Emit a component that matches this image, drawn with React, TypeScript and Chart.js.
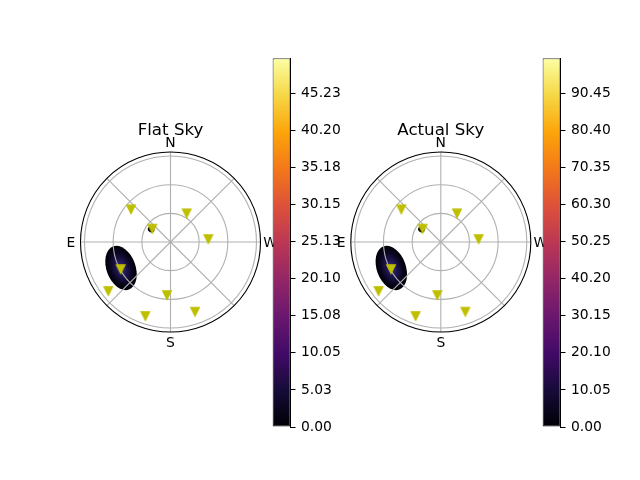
import { useEffect, useRef } from 'react';
import { Chart, registerables } from 'chart.js';

Chart.register(...registerables);

const FONT = "'DejaVu Sans', 'Liberation Sans', sans-serif";
const TICK_FS = 13.89;
const TITLE_FS = 16.67;

// ---- data ----
const panelTitles = ['Flat Sky', 'Actual Sky'];
// satellite positions: azimuth (deg, N=0, E=90) and zenith angle (deg)
const satAzimuth = [50.4, 330.6, 53.8, 274.5, 118.5, 128.2, 176.2, 161.2, 199.4];
const satZenith = [53.7, 34.5, 23.6, 39.7, 59.3, 82.9, 55.6, 81.8, 77.3];
// polar grid
const RMAX = 94.2;
const ringZenith = [30, 60, 90];
const spokeAzimuth = [0, 45, 90, 135, 180, 225, 270, 315];
const spokeLabels = ['N', '', 'E', '', 'S', '', 'W', ''];
// mesh blobs (non-masked cells)
const blobAzimuth = [117.7, 57];
const blobZenith = [58.5, 24.2];
const blobMajor = [24.1, 3.6];
const blobMinor = [15.2, 3.0];
const blobTilt = [70, 30];
const blobPeak = ['#3d3478', '#000004'];
// colorbars
const cbarMax = [50.0, 100.0];
const cbarTicksFlat = ['0.00', '5.03', '10.05', '15.08', '20.10', '25.13', '30.15', '35.18', '40.20', '45.23'];
const cbarTicksActual = ['0.00', '10.05', '20.10', '30.15', '40.20', '50.25', '60.30', '70.35', '80.40', '90.45'];
const infernoStops = ['#000004', '#160b39', '#420a68', '#6a176e', '#932667', '#bc3754', '#dd513a', '#f37819', '#fca50a', '#f6d746', '#fcffa4'];

const toXY = (az: number, zen: number): [number, number] => {
  const a = (az * Math.PI) / 180;
  return [-zen * Math.sin(a), zen * Math.cos(a)];
};

function makeMarker(): HTMLCanvasElement {
  const c = document.createElement('canvas');
  c.width = 12;
  c.height = 12;
  const g = c.getContext('2d')!;
  const h = 4.17;
  g.beginPath();
  g.moveTo(6 - h, 6 - h);
  g.lineTo(6 + h, 6 - h);
  g.lineTo(6, 6 + h);
  g.closePath();
  g.fillStyle = '#bfbf00';
  g.strokeStyle = '#bfbf00';
  g.lineWidth = 1.39;
  g.lineJoin = 'miter';
  g.fill();
  g.stroke();
  return c;
}

const polarPlugin = {
  id: 'polarSky',
  beforeDatasetsDraw(chart: any) {
    const { ctx } = chart;
    const x = chart.scales.x;
    const y = chart.scales.y;
    const cx = x.getPixelForValue(0);
    const cy = y.getPixelForValue(0);
    const ppu = (x.getPixelForValue(RMAX) - cx) / RMAX;
    // mesh blobs
    blobAzimuth.forEach((az, i) => {
      const [bx, by] = toXY(az, blobZenith[i]);
      ctx.save();
      ctx.translate(x.getPixelForValue(bx), y.getPixelForValue(by));
      ctx.rotate((blobTilt[i] * Math.PI) / 180);
      ctx.scale(blobMajor[i] * ppu, blobMinor[i] * ppu);
      const g = ctx.createRadialGradient(0, 0, 0, 0, 0, 1);
      g.addColorStop(0, blobPeak[i]);
      g.addColorStop(0.35, i === 0 ? '#1e1550' : '#000004');
      g.addColorStop(0.7, i === 0 ? '#0a0620' : '#000004');
      g.addColorStop(1, '#000004');
      ctx.fillStyle = g;
      ctx.beginPath();
      ctx.arc(0, 0, 1, 0, Math.PI * 2);
      ctx.fill();
      ctx.restore();
    });
    // grid
    ctx.save();
    ctx.strokeStyle = '#b0b0b0';
    ctx.lineWidth = 1.1;
    ringZenith.forEach((r) => {
      ctx.beginPath();
      ctx.arc(cx, cy, r * ppu, 0, Math.PI * 2);
      ctx.stroke();
    });
    spokeAzimuth.forEach((az) => {
      const [ex, ey] = toXY(az, RMAX);
      ctx.beginPath();
      ctx.moveTo(cx, cy);
      ctx.lineTo(x.getPixelForValue(ex), y.getPixelForValue(ey));
      ctx.stroke();
    });
    ctx.restore();
  },
  afterDatasetsDraw(chart: any) {
    const { ctx } = chart;
    const x = chart.scales.x;
    const y = chart.scales.y;
    const cx = x.getPixelForValue(0);
    const cy = y.getPixelForValue(0);
    const rpx = x.getPixelForValue(RMAX) - cx;
    ctx.save();
    ctx.strokeStyle = '#000';
    ctx.lineWidth = 1.1;
    ctx.beginPath();
    ctx.arc(cx, cy, rpx, 0, Math.PI * 2);
    ctx.stroke();
    ctx.fillStyle = '#000';
    ctx.font = `${TICK_FS}px ${FONT}`;
    ctx.textAlign = 'center';
    ctx.textBaseline = 'alphabetic';
    spokeAzimuth.forEach((az, i) => {
      const lab = spokeLabels[i];
      if (!lab) return;
      const a = (az * Math.PI) / 180;
      const d = rpx + 9.6;
      const px = cx - Math.sin(a) * d;
      const py = cy - Math.cos(a) * d;
      ctx.fillText(lab, px, py + 0.365 * TICK_FS);
    });
    ctx.restore();
  },
};

function PolarSky({ title, left, padL, padR }: { title: string; left: number; padL: number; padR: number }) {
  const ref = useRef<HTMLCanvasElement>(null);
  useEffect(() => {
    const marker = makeMarker();
    const points = satAzimuth.map((az, i) => {
      const [px, py] = toXY(az, satZenith[i]);
      return { x: px, y: py };
    });
    const chart = new Chart(ref.current!, {
      type: 'scatter',
      data: {
        datasets: [
          {
            data: points,
            pointStyle: marker as any,
            pointRadius: 5,
            showLine: false,
          },
        ],
      },
      options: {
        animation: false,
        responsive: false,
        events: [],
        layout: { padding: { left: padL, right: padR, top: 0, bottom: 28 } },
        plugins: {
          legend: { display: false },
          tooltip: { enabled: false },
          title: {
            display: true,
            text: title,
            color: '#000',
            font: { family: FONT, size: TITLE_FS, weight: 'normal' as any, lineHeight: 1.2 },
            padding: { top: 20.5, bottom: 11.5 },
          },
        },
        scales: {
          x: { type: 'linear', min: -RMAX, max: RMAX, display: false },
          y: { type: 'linear', min: -RMAX, max: RMAX, display: false },
        },
      },
      plugins: [polarPlugin],
    });
    return () => chart.destroy();
  }, []);
  return (
    <canvas
      ref={ref}
      width={220}
      height={260}
      style={{ position: 'absolute', left, top: 100, width: 220, height: 260 }}
    />
  );
}

function ColorBar({ left, vmax, ticks }: { left: number; vmax: number; ticks: string[] }) {
  const ref = useRef<HTMLCanvasElement>(null);
  useEffect(() => {
    const chart = new Chart(ref.current!, {
      type: 'bar',
      data: {
        labels: [''],
        datasets: [
          {
            data: [vmax],
            backgroundColor: (c: any) => {
              const area = c.chart.chartArea;
              if (!area) return '#000';
              const g = c.chart.ctx.createLinearGradient(0, area.bottom, 0, area.top);
              infernoStops.forEach((col, i) => g.addColorStop(i / (infernoStops.length - 1), col));
              return g;
            },
            borderColor: '#000',
            borderWidth: 1,
            borderSkipped: false,
            barPercentage: 1,
            categoryPercentage: 1,
            inflateAmount: 0,
          } as any,
        ],
      },
      options: {
        animation: false,
        responsive: false,
        events: [],
        layout: { padding: { left: 10.5, top: 18.3, right: 0, bottom: 23 } },
        plugins: { legend: { display: false }, tooltip: { enabled: false } },
        scales: {
          x: { display: false },
          y: {
            position: 'right',
            min: 0,
            max: vmax,
            afterBuildTicks: (s: any) => {
              s.ticks = ticks.map((t) => ({ value: parseFloat(t) }));
            },
            afterFit: (s: any) => {
              s.width = 61.5;
            },
            ticks: {
              autoSkip: false,
              callback: (_v: any, i: number) => ticks[i],
              color: '#000',
              padding: 5.5,
              font: { family: FONT, size: TICK_FS },
            },
            grid: { drawOnChartArea: false, drawTicks: true, tickLength: 5, color: '#000', lineWidth: 1 },
            border: { display: true, color: '#000', width: 1 },
          },
        },
      },
    });
    return () => chart.destroy();
  }, []);
  return (
    <canvas
      ref={ref}
      width={90}
      height={410}
      style={{ position: 'absolute', left, top: 40, width: 90, height: 410 }}
    />
  );
}

export default function App() {
  return (
    <div style={{ position: 'absolute', left: 0, top: 0, width: 640, height: 480, background: '#fff', overflow: 'hidden' }}>
      <PolarSky title={panelTitles[0]} left={60} padL={20.5} padR={19.5} />
      <ColorBar left={262} vmax={cbarMax[0]} ticks={cbarTicksFlat} />
      <PolarSky title={panelTitles[1]} left={330} padL={20.8} padR={19.2} />
      <ColorBar left={532} vmax={cbarMax[1]} ticks={cbarTicksActual} />
    </div>
  );
}
